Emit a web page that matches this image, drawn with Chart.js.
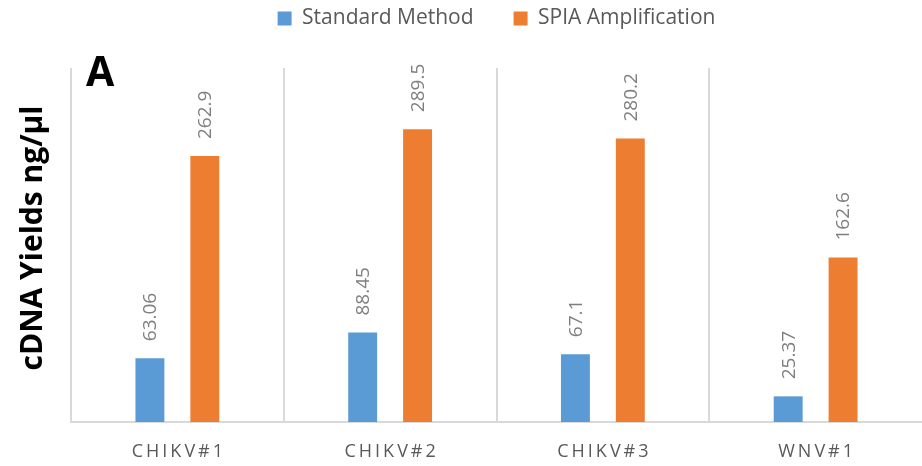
<!DOCTYPE html>
<html>
<head>
<meta charset="utf-8">
<script src="https://cdn.jsdelivr.net/npm/chart.js@4.4.0/dist/chart.umd.min.js"></script>
<style>
    html, body { margin: 0; padding: 0; background: #fff; }
    #wrap { width: 922px; height: 466px; position: relative; }
</style>
</head>
<body>
<div id="wrap"><canvas id="yieldChart"></canvas></div>
<script>
const categories = ['CHIKV#1', 'CHIKV#2', 'CHIKV#3', 'WNV#1'];
const seriesNames = ['Standard Method', 'SPIA Amplification'];
const standardValues = [63.06, 88.45, 67.1, 25.37];
const spiaValues = [262.9, 289.5, 280.2, 162.6];
const yAxisTitle = 'cDNA Yields ng/µl';
const panelLetter = 'A';
const yMax = 350;

(function () {
    const FONT = '"Open Sans", "Noto Sans", sans-serif';

    // push the plot area down below the legend
    const legendGap = {
        id: 'legendGap',
        beforeLayout(chart) {
            const legend = chart.legend;
            if (!legend || legend._gapPatched) {
                return;
            }
            const fit = legend.fit;
            legend.fit = function () {
                fit.call(this);
                this.height += 29;
            };
            legend._gapPatched = true;
        },
    };

    const barValueLabels = {
        id: 'barValueLabels',
        afterDatasetsDraw(chart) {
            const ctx = chart.ctx;
            ctx.save();
            ctx.font = '19px ' + FONT;
            ctx.fillStyle = '#7f7f7f';
            ctx.textAlign = 'left';
            ctx.textBaseline = 'middle';
            chart.data.datasets.forEach((ds, di) => {
                chart.getDatasetMeta(di).data.forEach((bar, i) => {
                    ctx.save();
                    ctx.translate(bar.x + 1, bar.y - 17);
                    ctx.rotate(-Math.PI / 2);
                    ctx.fillText(String(ds.data[i]), 0, 0);
                    ctx.restore();
                });
            });
            ctx.restore();
        },
    };

    const extraText = {
        id: 'extraText',
        afterDraw(chart) {
            const ctx = chart.ctx;
            const xScale = chart.scales.x;
            const area = chart.chartArea;

            ctx.save();
            ctx.fillStyle = '#595959';
            ctx.font = '18px ' + FONT;
            ctx.textAlign = 'center';
            ctx.textBaseline = 'middle';
            ctx.letterSpacing = '3px';
            categories.forEach((label, i) => {
                ctx.fillText(label, xScale.getPixelForValue(i) + 1.5, area.bottom + 30);
            });
            ctx.restore();

            ctx.save();
            ctx.fillStyle = '#000';
            ctx.font = 'bold 30px ' + FONT;
            ctx.textAlign = 'center';
            ctx.textBaseline = 'middle';
            ctx.translate(33, 238);
            ctx.rotate(-Math.PI / 2);
            ctx.fillText(yAxisTitle, 0, 0);
            ctx.restore();

            ctx.save();
            ctx.fillStyle = '#000';
            ctx.font = 'bold 41px ' + FONT;
            ctx.textAlign = 'left';
            ctx.textBaseline = 'alphabetic';
            ctx.fillText(panelLetter, 86, 86);
            ctx.restore();
        },
    };

    function draw() {
        const canvas = document.getElementById('yieldChart');
        new Chart(canvas, {
            type: 'bar',
            data: {
                labels: categories,
                datasets: [{
                    label: seriesNames[0],
                    data: standardValues,
                    backgroundColor: '#5b9bd5',
                    categoryPercentage: 0.516,
                    barPercentage: 0.527,
                }, {
                    label: seriesNames[1],
                    data: spiaValues,
                    backgroundColor: '#ed7d31',
                    categoryPercentage: 0.516,
                    barPercentage: 0.527,
                }],
            },
            options: {
                responsive: true,
                maintainAspectRatio: false,
                animation: false,
                layout: { padding: { top: -32, left: 71, right: 0, bottom: 44 } },
                plugins: {
                    legend: {
                        position: 'top',
                        fullSize: false,
                        labels: {
                            boxWidth: 14,
                            boxHeight: 14,
                            padding: 40,
                            color: '#595959',
                            font: { family: FONT, size: 21 },
                        },
                    },
                    tooltip: { enabled: false },
                },
                scales: {
                    x: {
                        grid: {
                            offset: true,
                            drawTicks: false,
                            lineWidth: 2,
                            color: (c) => (c.type === 'tick' ? '#d9d9d9' : 'rgba(0,0,0,0)'),
                        },
                        border: { display: true, color: '#d9d9d9', width: 2 },
                        ticks: { display: false },
                    },
                    y: { display: false, min: 0, max: yMax },
                },
            },
            plugins: [legendGap, barValueLabels, extraText],
        });
    }

    if (document.fonts && document.fonts.load) {
        Promise.all([
            document.fonts.load('19px "Open Sans"'),
            document.fonts.load('bold 30px "Open Sans"'),
        ]).then(draw, draw);
    } else {
        draw();
    }
})();
</script>
</body>
</html>
